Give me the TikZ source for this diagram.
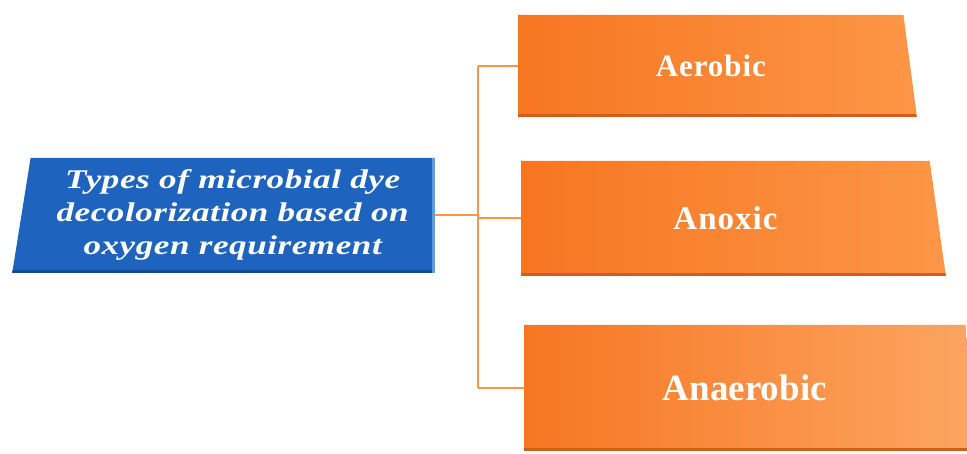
\documentclass[tikz,border=0pt]{standalone}
\usepackage{fontspec}
\setmainfont{Liberation Serif}
\usepackage{xcolor}
\usepackage{tikz}
\usetikzlibrary{shapes.geometric, positioning, calc}

\definecolor{topicblue}{RGB}{30,100,190}
\definecolor{topicedge}{RGB}{90,155,230}
\definecolor{topicdark}{RGB}{22,72,140}
\definecolor{typeleft}{RGB}{247,118,34}
\definecolor{typeright}{RGB}{252,150,70}
\definecolor{typedark}{RGB}{212,92,28}
\definecolor{linkorange}{RGB}{247,148,78}

\begin{document}
\begin{tikzpicture}[x=1pt, y=-1pt,
    topic/.style={trapezium, trapezium left angle=80, trapezium right angle=90,
      trapezium stretches=true, fill=topicblue, text=white, inner sep=0pt,
      align=center, anchor=bottom left corner,
      font=\fontsize{27}{33}\selectfont\bfseries\itshape\addfontfeatures{FakeStretch=1.3,LetterSpace=2},
      path picture={
        \fill[topicdark] (path picture bounding box.south west) rectangle ([yshift=3pt]path picture bounding box.south east);
        \fill[topicedge] ([xshift=-3pt]path picture bounding box.north east) rectangle (path picture bounding box.south east);}},
    type/.style={trapezium, trapezium left angle=90, trapezium right angle=80,
      trapezium stretches=true, left color=typeleft, right color=typeright,
      text=white, inner sep=0pt, anchor=bottom left corner,
      path picture={
        \fill[typedark] (path picture bounding box.south west) rectangle ([yshift=3pt]path picture bounding box.south east);}},
    link/.style={draw=linkorange, line width=1.8pt}
  ]
  \useasboundingbox (0,0) rectangle (967,453);
  \clip (0,0) rectangle (967,453);
  % Topic box
  \node[topic, minimum width=425pt, minimum height=115pt] (topic) at (12,273)
    {Types of microbial dye\\decolorization based on\\oxygen requirement};
  % Types
  \node[type, minimum width=399pt, minimum height=102pt, font=\fontsize{31}{36}\selectfont\bfseries\addfontfeatures{LetterSpace=3}] (aerobic) at (518,117) {Aerobic};
  \node[type, minimum width=425pt, minimum height=115pt, font=\fontsize{33}{38}\selectfont\bfseries\addfontfeatures{LetterSpace=3}] (anoxic) at (521,276) {Anoxic};
  \node[type, minimum width=454pt, minimum height=126pt, right color=typeright!85!white, font=\fontsize{37}{42}\selectfont\bfseries] (anaerobic) at (524,451) {Anaerobic};
  % Connectors
  \draw[link] (topic.east) -- ++(43,0) coordinate (hub);
  \draw[link] (hub |- aerobic.west) -- (hub |- anaerobic.west);
  \draw[link] (hub |- aerobic.west) -- (aerobic.west);
  \draw[link] (hub |- anoxic.west) -- (anoxic.west);
  \draw[link] (hub |- anaerobic.west) -- (anaerobic.west);
\end{tikzpicture}
\end{document}
